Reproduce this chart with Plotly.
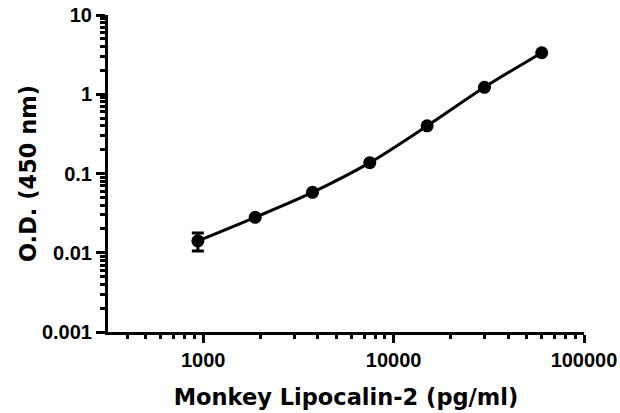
import plotly.graph_objects as go

conc = [937.5, 1875, 3750, 7500, 15000, 30000, 60000]
od = [0.0141, 0.028, 0.0578, 0.137, 0.399, 1.224, 3.34]
od_err = [0.0036, 0, 0, 0, 0, 0, 0]

x_tickvals = [1000, 10000, 100000]
x_ticktext = ["1000", "10000", "100000"]
y_tickvals = [0.001, 0.01, 0.1, 1, 10]
y_ticktext = ["0.001", "0.01", "0.1", "1", "10"]

fig = go.Figure()
fig.add_trace(go.Scatter(
    x=conc, y=od, mode="lines",
    line=dict(color="black", width=3, shape="spline", smoothing=0.8),
    hoverinfo="skip", showlegend=False))
fig.add_trace(go.Scatter(
    x=conc, y=od, mode="markers",
    marker=dict(color="black", size=13),
    error_y=dict(type="data", array=od_err, visible=True, color="black",
                 thickness=3, width=6),
    showlegend=False))

tickfont = dict(family="Liberation Sans", size=20, color="black", weight="bold")
titlefont = dict(family="DejaVu Sans", size=22.5, color="black", weight="bold")

fig.update_layout(
    width=620, height=413,
    margin=dict(l=108, r=36, t=15, b=81),
    plot_bgcolor="white", paper_bgcolor="white",
    xaxis=dict(
        type="log", range=[2.5, 5], automargin=False,
        tickvals=x_tickvals, ticktext=x_ticktext,
        showgrid=False, zeroline=False,
        showline=True, linecolor="black", linewidth=3,
        ticks="outside", ticklen=8, tickwidth=3, tickcolor="black",
        minor=dict(ticks="outside", ticklen=4, tickwidth=3, tickcolor="black",
                   dtick="D1", showgrid=False),
        tickfont=tickfont,
        title=dict(text="Monkey Lipocalin-2 (pg/ml)", font=titlefont, standoff=20),
    ),
    yaxis=dict(
        type="log", range=[-3, 1], automargin=False,
        tickvals=y_tickvals, ticktext=y_ticktext,
        showgrid=False, zeroline=False,
        showline=True, linecolor="black", linewidth=3,
        ticks="outside", ticklen=9, tickwidth=3, tickcolor="black",
        minor=dict(ticks="outside", ticklen=5, tickwidth=3, tickcolor="black",
                   dtick="D1", showgrid=False),
        tickfont=tickfont,
        title=dict(text="O.D. (450 nm)", font=titlefont, standoff=0),
    ),
)

fig.write_html("out.html", post_script="document.body.style.margin='0';",
               config={"displayModeBar": False})
